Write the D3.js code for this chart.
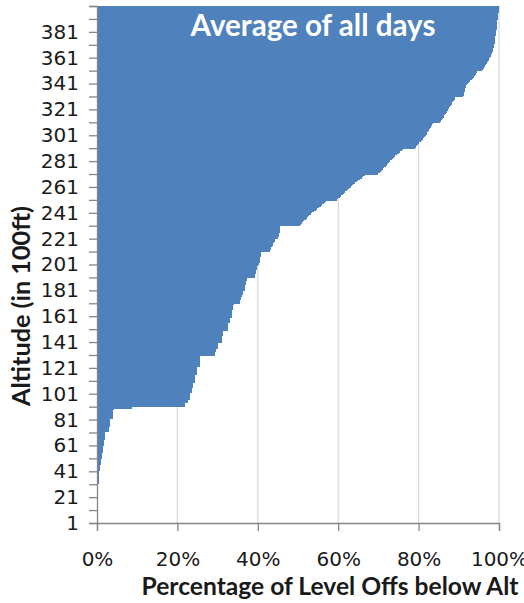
<!DOCTYPE html>
<html>
<head>
<meta charset="utf-8">
<script src="https://cdn.jsdelivr.net/npm/d3@7"></script>
<style>
  html, body { margin: 0; padding: 0; background: #fff; }
  svg { display: block; }
</style>
</head>
<body>
<svg id="chart" width="524" height="603"></svg>
<script>
// ---------------- DATA ----------------
// Altitude categories (in 100 ft): 1 .. 401
const altitudes = d3.range(1, 402);
// Cumulative percentage of level offs below each altitude
const pctBelow = [
  // 1-10
  0,0,0,0,0,0,0,0,0,0,
  // 11-20
  0,0,0,0,0,0,0,0,0,0,
  // 21-30
  0,0,0,0,0,0,0,0,0,0,
  // 31-40
  0.2,0.4,0.4,0.4,0.4,0.5,0.5,0.5,0.5,0.5,
  // 41-50
  0.5,0.8,0.8,0.8,0.8,0.9,0.9,0.9,0.9,0.9,
  // 51-60
  1.3,1.3,1.3,1.3,1.3,1.5,1.5,1.5,1.5,1.5,
  // 61-70
  1.8,1.8,1.8,1.8,1.8,2.0,2.0,2.0,2.0,2.0,
  // 71-80
  2.0,3.1,3.1,3.1,3.1,3.3,3.3,3.3,3.3,3.3,
  // 81-90
  3.3,4.1,4.1,4.1,4.1,4.1,4.1,4.1,4.2,8.7,
  // 91-100
  21.9,21.9,21.9,22.7,22.7,22.7,23.1,23.1,23.1,23.1,
  // 101-110
  23.1,23.6,23.6,23.6,23.6,24.0,24.0,24.0,24.0,24.4,
  // 111-120
  24.4,24.4,24.4,24.4,24.4,24.8,24.8,24.8,24.8,24.8,
  // 121-130
  24.8,25.6,25.6,25.6,25.6,25.6,25.6,25.6,25.6,25.6,
  // 131-140
  29.4,29.4,29.4,29.6,29.6,30.0,30.0,30.0,30.2,30.2,
  // 141-150
  31.0,31.0,31.0,31.0,31.0,31.4,31.4,31.4,31.4,32.6,
  // 151-160
  32.6,32.6,32.6,32.6,32.6,33.0,33.0,33.0,33.0,33.5,
  // 161-170
  33.5,33.5,33.5,33.5,33.5,33.9,33.9,33.9,33.9,34.0,
  // 171-180
  35.6,35.6,35.6,35.8,35.8,36.0,36.0,36.2,36.2,36.2,
  // 181-190
  36.8,36.8,36.8,36.8,36.8,37.1,37.1,37.1,37.2,37.2,
  // 191-200
  39.3,39.3,39.3,39.5,39.5,39.6,39.8,39.8,39.8,40.0,
  // 201-210
  40.3,40.3,40.5,40.5,40.6,40.6,40.8,40.9,40.9,40.9,
  // 211-220
  43.0,43.0,43.2,43.4,43.6,43.8,43.8,44.0,44.2,44.4,
  // 221-230
  45.0,45.0,45.2,45.2,45.3,45.4,45.5,45.6,45.6,45.6,
  // 231-240
  50.5,50.8,51.0,51.3,51.6,51.9,52.2,52.5,52.8,53.2,
  // 241-250
  53.6,54.0,54.4,54.8,55.2,55.6,56.0,56.4,56.8,57.0,
  // 251-260
  59.7,60.0,60.4,60.8,61.1,61.4,61.8,62.1,62.5,62.8,
  // 261-270
  63.2,63.5,63.8,64.2,64.6,65.0,65.4,65.8,66.2,66.6,
  // 271-280
  70.0,70.3,70.6,70.9,71.2,71.5,71.8,72.1,72.4,72.7,
  // 281-290
  73.0,73.3,73.6,73.9,74.2,74.6,75.0,75.4,75.8,76.2,
  // 291-300
  79.0,79.3,79.6,79.9,80.2,80.5,80.8,81.1,81.4,81.6,
  // 301-310
  81.8,82.0,82.2,82.4,82.6,82.8,83.0,83.2,83.4,83.6,
  // 311-320
  85.4,85.6,85.8,86.0,86.2,86.4,86.6,86.8,87.0,87.2,
  // 321-330
  87.4,87.6,87.8,88.0,88.2,88.4,88.6,88.8,89.0,89.1,
  // 331-340
  91.1,91.2,91.3,91.4,91.5,91.6,91.6,91.7,91.8,92.0,
  // 341-350
  92.3,92.6,92.9,93.2,93.5,93.8,94.0,94.2,94.4,94.6,
  // 351-360
  95.8,96.0,96.2,96.4,96.6,96.8,97.0,97.2,97.4,97.6,
  // 361-370
  97.8,98.0,98.1,98.2,98.3,98.4,98.5,98.6,98.7,98.8,
  // 371-380
  98.8,98.9,98.9,99.0,99.0,99.1,99.1,99.2,99.2,99.3,
  // 381-390
  99.3,99.3,99.4,99.4,99.4,99.5,99.5,99.5,99.6,99.6,
  // 391-400
  99.7,99.7,99.8,99.8,99.8,99.9,99.9,99.9,100,100,
  // 401
  100
];
// Axis ticks and labels
const yTickValues = d3.range(1, 402, 10);          // tick marks every 10
const yLabelValues = d3.range(1, 382, 20);         // labels 1, 21, ... 381
const xTickValues = [0, 20, 40, 60, 80, 100];
const titleText = "Average of all days";
const xAxisTitle = "Percentage of Level Offs below Alt";
const yAxisTitle = "Altitude (in 100ft)";

// ---------------- LAYOUT ----------------
const W = 524, H = 603;
const margin = { left: 97, right: 25, top: 6, bottom: 80 };
const svg = d3.select("#chart");

const x = d3.scaleLinear().domain([0, 100]).range([margin.left, W - margin.right]);
const y = d3.scaleLinear().domain([1, 401]).range([H - margin.bottom, margin.top]);

const barColor = "#4f81bd";
const gridColor = "#d9d9d9";
const axisColor = "#868686";
const textColor = "#1a1a1a";

svg.append("defs").append("clipPath").attr("id", "plotClip")
  .append("rect")
  .attr("x", x(0)).attr("y", y(401))
  .attr("width", x(100) - x(0)).attr("height", y(1) - y(401));

// gridlines
svg.append("g").selectAll("line")
  .data(xTickValues.filter(d => d > 0))
  .join("line")
  .attr("x1", d => x(d)).attr("x2", d => x(d))
  .attr("y1", y(401)).attr("y2", y(1))
  .attr("stroke", gridColor).attr("stroke-width", 1.3);

// bars (drawn top-down so each lower bar overlaps the seam below the one above)
const data = altitudes.map((a, i) => ({ alt: a, v: pctBelow[i] }))
  .filter(d => d.v > 0)
  .sort((a, b) => b.alt - a.alt);
svg.append("g").attr("clip-path", "url(#plotClip)")
  .selectAll("rect")
  .data(data)
  .join("rect")
  .attr("x", x(0))
  .attr("y", d => y(d.alt + 0.5) - 1)
  .attr("width", d => x(d.v) - x(0))
  .attr("height", d => y(d.alt - 0.5) - y(d.alt + 0.5) + 1)
  .attr("fill", barColor)
  .attr("shape-rendering", "crispEdges");

// y axis
const yAxis = d3.axisLeft(y)
  .tickValues(yTickValues)
  .tickSize(8)
  .tickPadding(10)
  .tickFormat(d => yLabelValues.includes(d) ? String(d) : "");
const gy = svg.append("g").attr("transform", `translate(${x(0)},0)`).call(yAxis);
gy.select(".domain").attr("stroke", axisColor).attr("stroke-width", 1.3);
gy.selectAll(".tick line").attr("stroke", axisColor).attr("stroke-width", 1.3);
gy.selectAll(".tick text")
  .attr("fill", textColor)
  .style("font-family", "'DejaVu Sans', sans-serif")
  .style("font-size", "20px");

// x axis
const xAxis = d3.axisBottom(x)
  .tickValues(xTickValues)
  .tickSize(8)
  .tickPadding(21)
  .tickFormat(d => d + "%");
const gx = svg.append("g").attr("transform", `translate(0,${y(1)})`).call(xAxis);
gx.select(".domain").attr("stroke", axisColor).attr("stroke-width", 1.3);
gx.selectAll(".tick line").attr("stroke", axisColor).attr("stroke-width", 1.3);
gx.selectAll(".tick text")
  .attr("fill", textColor)
  .style("font-family", "'DejaVu Sans', sans-serif")
  .style("font-size", "20px");

// helper: size text to a target width
function fitWidth(sel, target) {
  const size = parseFloat(sel.style("font-size"));
  const len = sel.node().getComputedTextLength();
  if (len > 0) sel.style("font-size", (size * target / len) + "px");
}

// chart title (inside plot)
const t = svg.append("text")
  .attr("x", 313).attr("y", 36)
  .attr("text-anchor", "middle")
  .attr("fill", "#ffffff")
  .style("font-family", "Lato, sans-serif")
  .style("font-weight", "bold")
  .style("font-size", "28px")
  .text(titleText);
fitWidth(t, 245);

// x axis title
const xt = svg.append("text")
  .attr("x", 330).attr("y", 595)
  .attr("text-anchor", "middle")
  .attr("fill", textColor)
  .style("font-family", "Lato, sans-serif")
  .style("font-weight", "bold")
  .style("font-size", "21px")
  .text(xAxisTitle);
fitWidth(xt, 377);

// y axis title
const yt = svg.append("text")
  .attr("transform", "translate(30,306) rotate(-90)")
  .attr("text-anchor", "middle")
  .attr("fill", textColor)
  .style("font-family", "Lato, sans-serif")
  .style("font-weight", "bold")
  .style("font-size", "22px")
  .text(yAxisTitle);
fitWidth(yt, 200);
</script>
</body>
</html>
